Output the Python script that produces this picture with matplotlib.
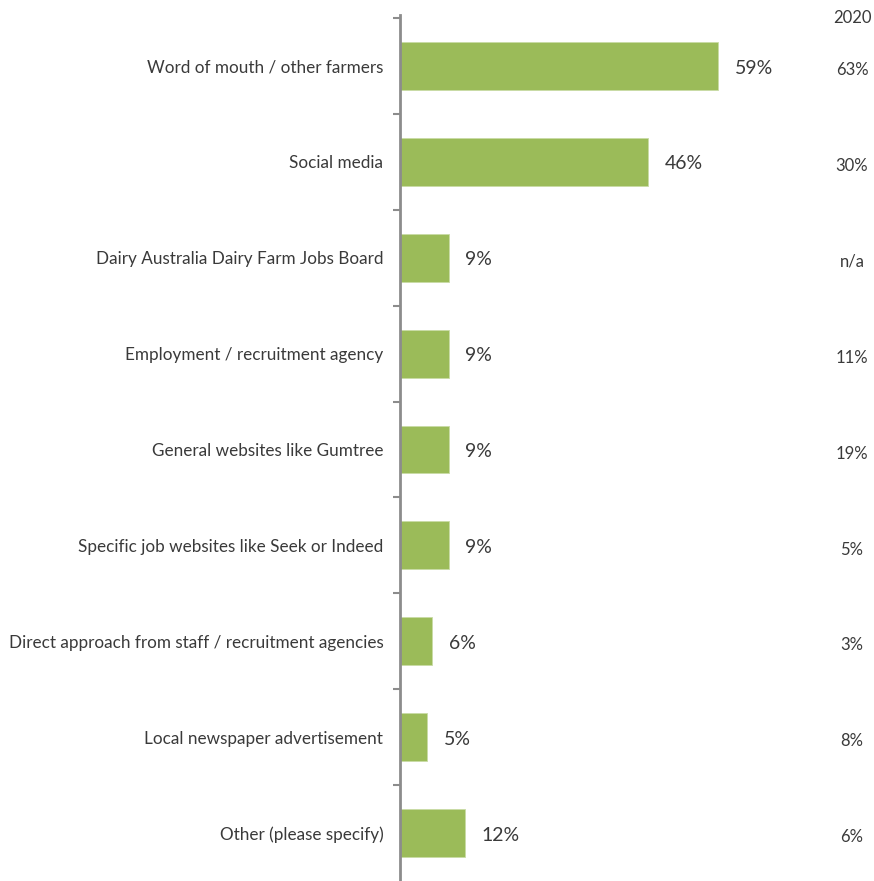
import matplotlib.pyplot as plt

plt.rcParams['font.family'] = ['Lato', 'DejaVu Sans']

sources = [
    "Word of mouth / other farmers",
    "Social media",
    "Dairy Australia Dairy Farm Jobs Board",
    "Employment / recruitment agency",
    "General websites like Gumtree",
    "Specific job websites like Seek or Indeed",
    "Direct approach from staff / recruitment agencies",
    "Local newspaper advertisement",
    "Other (please specify)",
]
share_now = [59, 46, 9, 9, 9, 9, 6, 5, 12]
share_2020 = ["63%", "30%", "n/a", "11%", "19%", "5%", "3%", "8%", "6%"]

text_col = "#3a3a3a"
bar_col = "#9BBB59"

fig = plt.figure(figsize=(8.74, 8.81), dpi=100)
ax = fig.add_axes([400 / 874, 0.0, 474 / 874, 863 / 881])

ypos = list(range(len(sources)))
ax.barh(ypos, share_now, height=0.5, color=bar_col, edgecolor="#c9dba6", linewidth=0.6)
ax.set_ylim(len(sources) - 0.5, -0.5)
ax.set_xlim(0, 87.9)

for y, v in zip(ypos, share_now):
    ax.annotate(f"{v}%", (v, y), xytext=(12, -1.5), textcoords="offset points",
                ha="left", va="center", fontsize=14, color=text_col)

# 2020 comparison column on the right
xcol = (852 - 400) / 474
ax.text(xcol, 1.0, "2020", transform=ax.transAxes, ha="center",
        va="center", fontsize=12, color=text_col, clip_on=False)
for y, s in zip(ypos, share_2020):
    ax.annotate(s, (xcol, y), xycoords=ax.get_yaxis_transform(),
                xytext=(0, -3), textcoords="offset points",
                ha="center", va="center", fontsize=12, color=text_col)

ax.set_yticks([y + 0.5 for y in ypos[:-1]] + [-0.5])
ax.set_yticklabels([])
ax.set_yticks(ypos, minor=True)
ax.set_yticklabels(sources, minor=True, fontsize=12.3, color=text_col)
ax.tick_params(axis="y", which="major", length=5, width=1.5, color="#8c8c8c", direction="out")
ax.tick_params(axis="y", which="minor", length=0, pad=12)
ax.set_xticks([])

for side in ["top", "right", "bottom"]:
    ax.spines[side].set_visible(False)
ax.spines["left"].set_color("#8c8c8c")
ax.spines["left"].set_linewidth(2)
ax.spines["left"].set_bounds(len(sources) - 0.5, -0.53)

fig.savefig("out.png", dpi=100)
